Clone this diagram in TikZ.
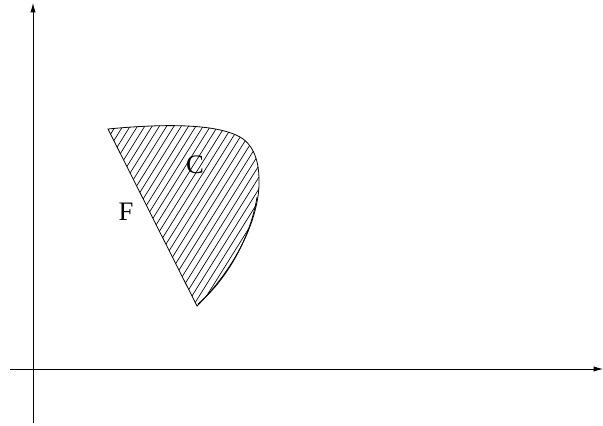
\documentclass[tikz,border=0pt]{standalone}
\usepackage{fontspec}
\setmainfont{Liberation Serif}
\usetikzlibrary{arrows.meta}
\tikzset{
  axis/.style={line width=0.6pt, draw=black, -{Latex[length=7pt,width=4pt]}},
  region/.style={line width=0.6pt, draw=black},
  hatch/.style={line width=0.5pt, draw=black},
  label/.style={font=\fontsize{20}{24}\selectfont, inner sep=0pt}
}

\begin{document}
\begin{tikzpicture}[x=0.75pt,y=0.75pt]

% Canvas
\useasboundingbox (0,0) rectangle (603,425);

% Axes
\coordinate (yStart) at (33,2);
\coordinate (yEnd) at (33,422);
\coordinate (xStart) at (10,56);
\coordinate (xEnd) at (603,56);
\draw[axis] (yStart) -- (yEnd);
\draw[axis] (xStart) -- (xEnd);

% Hatched region
\def\regionPath{(108,296) .. controls (160,301) and (215,302) .. (240,288)
  .. controls (251,282) and (259,268) .. (259,245)
  .. controls (260,215) and (243,165) .. (197,119) -- cycle}
\begin{scope}
  \clip \regionPath;
  \foreach \i in {0,...,42}
    \draw[hatch] ({-12+7.3*\i},118) -- ++(58:220);
\end{scope}
\draw[region] \regionPath;
\draw[region] (257,228) .. controls (252,195) and (232,150) .. (198,121);

% Labels
\node[label] (cLabel) at (195,260) {C};
\node[label] (fLabel) at (126,213) {F};

\end{tikzpicture}
\end{document}
